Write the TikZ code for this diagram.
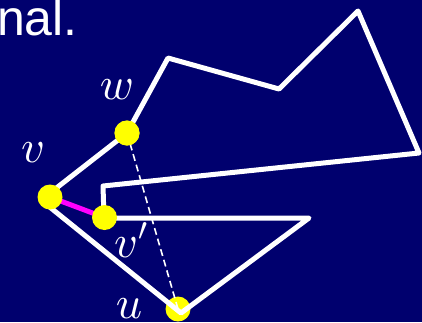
\documentclass[tikz,border=0pt]{standalone}
\usepackage{fontspec}
\DeclareFontShape{OML}{cmm}{m}{it}{<->cmmi10}{}
\DeclareFontShape{OMS}{cmsy}{m}{n}{<->cmsy10}{}
\newfontfamily\arialfont{Liberation Sans}
\definecolor{bgnavy}{RGB}{0,0,110}
\definecolor{dotyellow}{RGB}{255,255,0}
\definecolor{edgemag}{RGB}{255,0,255}
\tikzset{
  polyline/.style={draw=white, line width=5pt, line join=round, line cap=round},
  dashline/.style={draw=white, line width=1.6pt, dash pattern=on 7pt off 4pt},
  magline/.style={draw=edgemag, line width=5pt},
  ydot/.style={circle, fill=dotyellow, minimum size=25pt, inner sep=0pt},
  mlabel/.style={text=white, inner sep=0pt, font=\fontsize{46}{46}\selectfont},
}
\begin{document}
\begin{tikzpicture}[x=1pt, y=-1pt]
\fill[bgnavy] (0,0) rectangle (422,322);
\useasboundingbox (0,0) rectangle (422,322);
\node[anchor=base west, inner sep=0pt, text=white, font=\arialfont\fontsize{50}{50}\selectfont] (title) at (-3,35) {nal.};
\coordinate (v) at (41,200);
\coordinate (w) at (127,133);
\coordinate (p2) at (168,58);
\coordinate (p3) at (279,89);
\coordinate (p4) at (358,11);
\coordinate (p5) at (419,153);
\coordinate (p6) at (103,186);
\coordinate (vp) at (104,218);
\coordinate (p8) at (309,218);
\coordinate (u) at (181,313);
\node[ydot] (du) at (178,309) {};
\draw[polyline] (v) -- (w) -- (p2) -- (p3) -- (p4) -- (p5) -- (p6) -- (vp) -- (p8) -- (u) -- cycle;
\node[ydot] (dw) at (127,133) {};
\draw[dashline] (dw.center) -- (du.center);
\node[ydot] (dw2) at (127,133) {};
\draw[magline] (50,197) coordinate (vc) -- (104.5,217.5) coordinate (vpc);
\node[ydot] (dv) at (vc) {};
\node[ydot] (dvp) at (vpc) {};
\node[mlabel, anchor=base] (lw) at (117,99) {$w$};
\node[mlabel, anchor=base] (lv) at (33,162) {$v$};
\node[mlabel, anchor=base west] (lvp) at (114,257) {$v'$};
\node[mlabel, anchor=base] (lu) at (129,318) {$u$};
\end{tikzpicture}
\end{document}
